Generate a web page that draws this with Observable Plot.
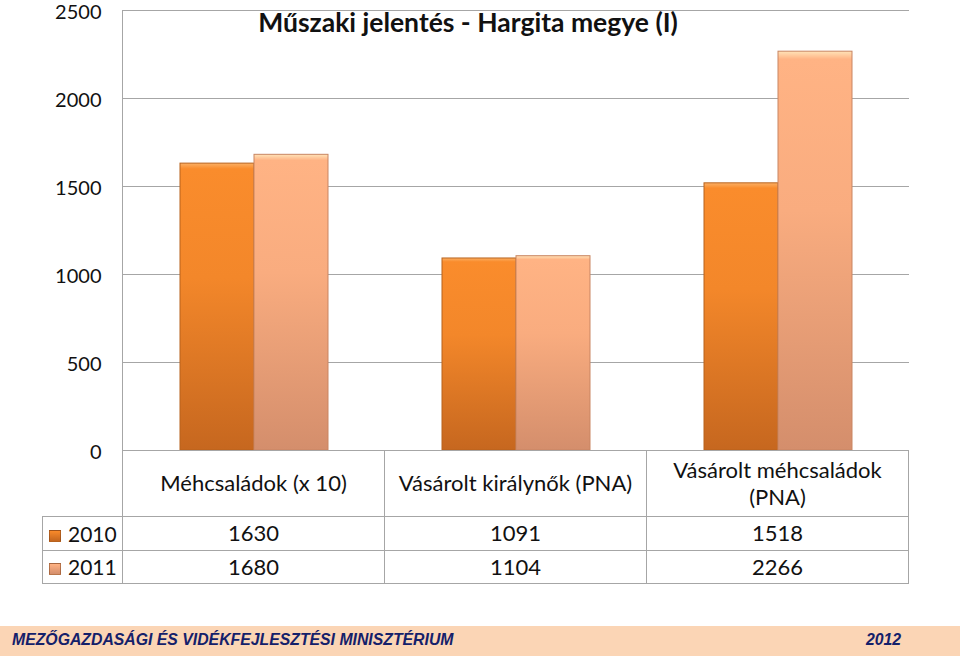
<!DOCTYPE html>
<html>
<head>
<meta charset="utf-8">
<script src="https://cdn.jsdelivr.net/npm/d3@7"></script>
<script src="https://cdn.jsdelivr.net/npm/@observablehq/plot@0.6"></script>
<style>
  html, body { margin: 0; padding: 0; background: #fff; }
  #wrap { position: relative; width: 960px; height: 656px; overflow: hidden; font-family: Lato, "Noto Sans", sans-serif; color: #111; }
  #chart { position: absolute; left: 0; top: 0; }
  #chart svg { overflow: visible; }
  #title { position: absolute; top: 6px; left: 468px; transform: translateX(-50%); font-size: 26.5px; font-weight: bold; white-space: nowrap; }
  table.dt { position: absolute; border-collapse: collapse; table-layout: fixed; font-size: 22px; }
  table.dt td { border: 1px solid #a6a6a6; text-align: center; padding: 0; line-height: 1.2; }
  table.dt td.empty { border-top: none; border-left: none; }
  table.dt td.yr { text-align: left; padding-left: 6px; white-space: nowrap; font-size: 21px; }
  .key { display: inline-block; width: 12px; height: 12px; margin-right: 7px; vertical-align: 0px; border: 1px solid rgba(120,60,20,0.5); box-sizing: border-box; }
  .hdr { display: inline-block; max-width: 235px; }
  #vline { position: absolute; width: 0; border-left: 1px solid #a6a6a6; }
  #footer { position: absolute; left: 0; top: 626px; width: 960px; height: 30px; background: #fbd5b5; }
  #footer span { position: absolute; top: 5px; font-family: "Liberation Sans Narrow", "Liberation Sans", Arial, sans-serif; font-weight: bold; font-style: italic; font-size: 15.8px; color: #14206a; white-space: nowrap; }
</style>
</head>
<body>
<div id="wrap">
  <div id="chart"></div>
  <div id="title">Műszaki jelentés - Hargita megye (I)</div>
  <div id="vline"></div>
  <div id="footer"><span id="ft1">MEZŐGAZDASÁGI ÉS VIDÉKFEJLESZTÉSI MINISZTÉRIUM</span><span id="ft2">2012</span></div>
</div>
<script>
const categories = ["Méhcsaládok (x 10)", "Vásárolt királynők (PNA)", "Vásárolt méhcsaládok (PNA)"];
const years = ["2010", "2011"];
const values2010 = [1630, 1091, 1518];
const values2011 = [1680, 1104, 2266];
const yTicks = [0, 500, 1000, 1500, 2000, 2500];

const seriesValues = {"2010": values2010, "2011": values2011};
const rows = years.flatMap(yr => categories.map((c, i) => ({cat: c, year: yr, value: seriesValues[yr][i]})));

const chart = Plot.plot({
  width: 960,
  height: 452,
  marginLeft: 122,
  marginRight: 50,
  marginTop: 10,
  marginBottom: 2,
  style: {fontFamily: "Lato, 'Noto Sans', sans-serif", fontSize: "20px", color: "#111", background: "transparent", overflow: "visible"},
  fx: {domain: categories, padding: 0, axis: null},
  x: {domain: years, paddingInner: 0, paddingOuter: 0.75, axis: null},
  y: {domain: [0, 2500], label: null},
  marks: [
    Plot.gridY(yTicks, {stroke: "#a6a6a6", strokeOpacity: 1, strokeWidth: 1}),
    Plot.axisY(yTicks, {tickSize: 0, tickPadding: 22, fontSize: 20, dy: 2, label: null, tickFormat: d3.format("d")}),
    Plot.barY(rows.filter(d => d.year === "2010"), {fx: "cat", x: "year", y: "value", fill: "url(#g2010)", stroke: "#b8621c", strokeWidth: 1}),
    Plot.barY(rows.filter(d => d.year === "2011"), {fx: "cat", x: "year", y: "value", fill: "url(#g2011)", stroke: "#c98562", strokeWidth: 1})
  ]
});

// gradients
const svgSel = d3.select(chart);
const defs = svgSel.insert("defs", ":first-child");
function grad(id, stops) {
  const g = defs.append("linearGradient").attr("id", id).attr("x1", 0).attr("y1", 0).attr("x2", 0).attr("y2", 1);
  stops.forEach(([o, c]) => g.append("stop").attr("offset", o).attr("stop-color", c));
}
grad("g2010", [[0, "#fbb065"], [0.02, "#fa8c2c"], [0.4, "#f3872a"], [1, "#c6671f"]]);
grad("g2011", [[0, "#ffe3b8"], [0.02, "#ffb384"], [0.4, "#f9ac7f"], [1, "#d48e6c"]]);

document.getElementById("chart").appendChild(chart);

// table below chart, aligned with the fx scale
const fxs = chart.scale("fx");
const ys = chart.scale("y");
const colW = fxs.step;
const plotLeft = fxs.range[0];
const plotBottom = ys.range[0];
const plotTop = ys.range[1];
const yearColW = 80;

const wrap = document.getElementById("wrap");
const table = document.createElement("table");
table.className = "dt";
table.style.left = (plotLeft - yearColW) + "px";
table.style.top = plotBottom + "px";
table.style.width = (yearColW + colW * categories.length) + "px";
const colgroup = document.createElement("colgroup");
[yearColW, ...categories.map(() => colW)].forEach(w => {
  const col = document.createElement("col");
  col.style.width = w + "px";
  colgroup.appendChild(col);
});
table.appendChild(colgroup);
const hr = document.createElement("tr");
hr.style.height = "66px";
const emptyCell = document.createElement("td"); emptyCell.className = "empty"; hr.appendChild(emptyCell);
categories.forEach(c => {
  const td = document.createElement("td");
  td.innerHTML = `<span class="hdr">${c}</span>`;
  hr.appendChild(td);
});
table.appendChild(hr);
const keyGrad = {"2010": "linear-gradient(#f98a2a, #c4661f)", "2011": "linear-gradient(#ffb283, #d48e6c)"};
years.forEach((yr, k) => {
  const tr = document.createElement("tr");
  tr.style.height = (k === 0 ? 34 : 33) + "px";
  const td0 = document.createElement("td");
  td0.className = "yr";
  td0.innerHTML = `<span class="key" style="background:${keyGrad[yr]}"></span>${yr}`;
  tr.appendChild(td0);
  seriesValues[yr].forEach(v => {
    const td = document.createElement("td");
    td.textContent = v;
    tr.appendChild(td);
  });
  table.appendChild(tr);
});
wrap.appendChild(table);

const vline = document.getElementById("vline");
vline.style.left = plotLeft + "px";
vline.style.top = plotTop + "px";
vline.style.height = (plotBottom - plotTop) + "px";

document.getElementById("ft1").style.left = "12px";
document.getElementById("ft2").style.left = "866px";
</script>
</body>
</html>
